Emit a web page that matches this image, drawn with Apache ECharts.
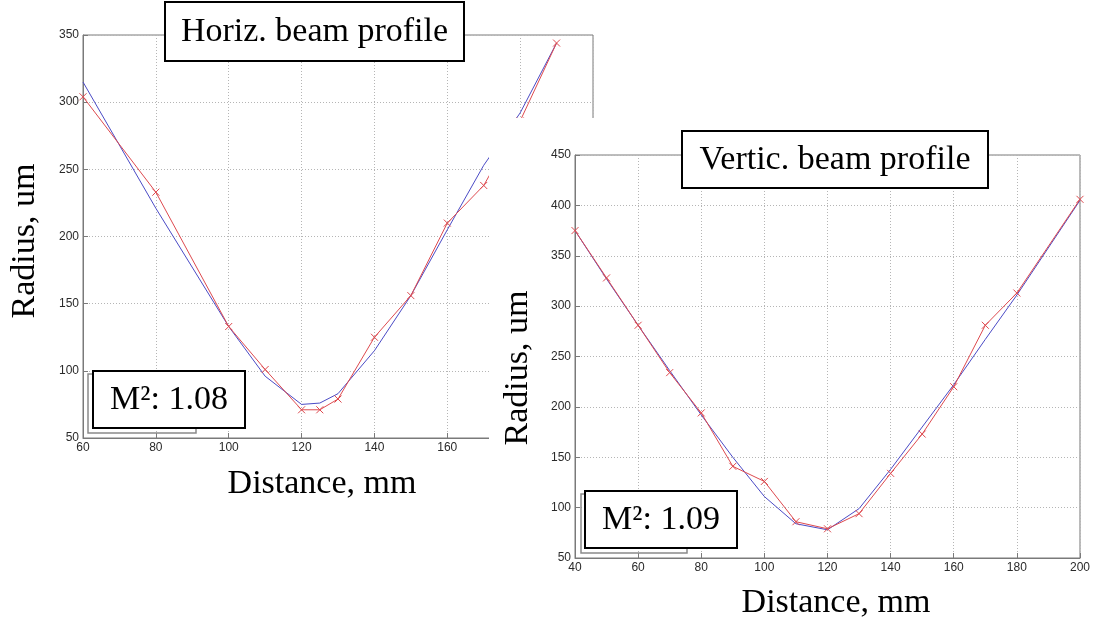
<!DOCTYPE html>
<html>
<head>
<meta charset="utf-8">
<title>Beam profiles</title>
<script src="https://cdn.jsdelivr.net/npm/echarts@6/dist/echarts.min.js"></script>
<style>
  html, body { margin: 0; padding: 0; background: #fff; }
  #chart { width: 1093px; height: 622px; }
</style>
</head>
<body>
<div id="chart"></div>
<script>
// Horizontal profile: measured radius and fitted curve (um) vs distance (mm)
const horizDistance = [60, 80, 100, 110, 120, 125, 130, 140, 150, 160, 170, 180, 190];
const horizMeasured = [304, 233, 133, 101, 71, 71, 79, 125, 156, 210, 238, 286, 344];
const horizFit      = [315, 221, 133, 96, 75, 76, 83, 115, 156, 205, 253, 292, 344];

// Vertical profile: measured radius and fitted curve (um) vs distance (mm)
const vertDistance = [40, 50, 60, 70, 80, 90, 100, 110, 120, 130, 140, 150, 160, 170, 180, 200];
const vertMeasured = [375, 328, 281, 234, 194, 141, 126, 86, 79, 94, 134, 173, 220, 281, 313, 406];
const vertFit      = [375, 327, 281, 236, 192, 150, 111, 84, 78, 99, 138, 180, 222, 267, 311, 405];

const horizM2 = '1.08';
const vertM2 = '1.09';

const pairs = (xs, ys) => xs.map((x, i) => [x, ys[i]]);

const RED = '#de4a4f';
const BLUE = '#4b4bc6';
const SERIF = '"Liberation Serif", "DejaVu Serif", serif';
const crossSymbol = 'path://M0,0L10,10M10,0L0,10';

function valueAxis(gridIndex, min, max, interval, z) {
  return {
    type: 'value', gridIndex, min, max, interval, z,
    axisLine: { show: true, onZero: false, lineStyle: { color: '#7a7a7a', width: 1 } },
    axisTick: { show: true, inside: true, length: 5, lineStyle: { color: '#7a7a7a' } },
    axisLabel: { color: '#2a2a2a', fontSize: 12, fontFamily: 'Liberation Sans, Arial, sans-serif', margin: 4 },
    splitLine: { show: true, lineStyle: { color: '#b5b5b5', type: [1, 2], width: 1 } }
  };
}

function measuredSeries(xi, yi, data, z) {
  return {
    type: 'line', xAxisIndex: xi, yAxisIndex: yi, data, z,
    symbol: crossSymbol, symbolSize: 7, showSymbol: true,
    lineStyle: { color: RED, width: 1 },
    itemStyle: { color: 'rgba(0,0,0,0)', borderColor: RED, borderWidth: 1 },
    emphasis: { disabled: true }
  };
}

function fitSeries(xi, yi, data, z) {
  return {
    type: 'line', xAxisIndex: xi, yAxisIndex: yi, data, z,
    showSymbol: false,
    lineStyle: { color: BLUE, width: 1 },
    emphasis: { disabled: true }
  };
}

function boxedText(cx, cy, w, h, text, fontSize, z) {
  return {
    type: 'group', z,
    children: [
      { type: 'rect', z, shape: { x: cx - w / 2, y: cy - h / 2, width: w, height: h },
        style: { fill: '#fff', stroke: '#000', lineWidth: 2 } },
      { type: 'text', z: z + 1, x: cx, y: cy + 1,
        style: { text, fill: '#000', font: fontSize + 'px ' + SERIF, align: 'center', verticalAlign: 'middle' } }
    ]
  };
}

function shadowRect(x, y, w, h, z) {
  return { type: 'rect', z, shape: { x, y, width: w, height: h },
    style: { fill: 'rgba(0,0,0,0)', stroke: '#8a8a8a', lineWidth: 1.5 } };
}

function axisTitle(cx, cy, text, rotated, z) {
  return { type: 'text', z, x: cx, y: cy, rotation: rotated ? Math.PI / 2 : 0,
    style: { text, fill: '#000', font: '34px ' + SERIF, align: 'center', verticalAlign: 'middle' } };
}

const chart = echarts.init(document.getElementById('chart'), null, { renderer: 'canvas' });

chart.setOption({
  animation: false,
  backgroundColor: '#fff',
  grid: [
    { left: 83, top: 35, width: 510, height: 403, show: true, borderColor: '#7a7a7a', borderWidth: 1, backgroundColor: 'rgba(0,0,0,0)', z: 0 },
    { left: 575, top: 155, width: 510, height: 403, show: true, borderColor: '#7a7a7a', borderWidth: 1, backgroundColor: 'rgba(0,0,0,0)', z: 10 }
  ],
  xAxis: [
    valueAxis(0, 60, 200, 20, 0),
    valueAxis(1, 40, 200, 20, 10)
  ],
  yAxis: [
    valueAxis(0, 50, 350, 50, 0),
    valueAxis(1, 50, 450, 50, 10)
  ],
  series: [
    fitSeries(0, 0, pairs(horizDistance, horizFit), 2),
    measuredSeries(0, 0, pairs(horizDistance, horizMeasured), 3),
    fitSeries(1, 1, pairs(vertDistance, vertFit), 12),
    measuredSeries(1, 1, pairs(vertDistance, vertMeasured), 13)
  ],
  graphic: [
    // the vertical-profile panel sits on top of the horizontal one
    { type: 'rect', z: 5, shape: { x: 489, y: 118, width: 604, height: 504 }, style: { fill: '#fff' } },

    boxedText(314.5, 31.5, 299, 59, 'Horiz. beam profile', 34, 30),
    boxedText(835, 159.5, 306, 57, 'Vertic. beam profile', 34, 30),

    shadowRect(88, 374, 108, 59, 20),
    boxedText(169, 399.5, 152, 57, 'M\u00B2: ' + horizM2, 34, 30),
    shadowRect(581, 494, 106, 59, 20),
    boxedText(661, 519.5, 152, 57, 'M\u00B2: ' + vertM2, 34, 30),

    axisTitle(25, 241, 'Radius, um', true, 30),
    axisTitle(322, 484, 'Distance, mm', false, 30),
    axisTitle(518, 368, 'Radius, um', true, 30),
    axisTitle(836, 603, 'Distance, mm', false, 30)
  ]
});
</script>
</body>
</html>
